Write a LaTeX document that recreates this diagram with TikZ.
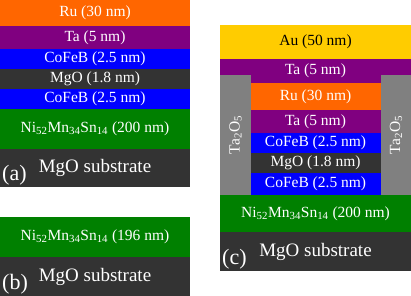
\documentclass[tikz,border=0pt]{standalone}
\usepackage{fontspec}
\setmainfont{Liberation Serif}
\usetikzlibrary{positioning}
\definecolor{ru}{HTML}{FF6600}
\definecolor{ta}{HTML}{800080}
\definecolor{cofeb}{HTML}{0000FF}
\definecolor{mgo}{HTML}{333333}
\definecolor{nms}{HTML}{008000}
\definecolor{au}{HTML}{FFCC00}
\definecolor{taox}{HTML}{808080}
\begin{document}
\begin{tikzpicture}[x=1pt,y=-1pt,node distance=0pt,
layer/.style={inner sep=0pt,outer sep=0pt,text=white,font=\fontsize{15.5}{18}\selectfont},
sub/.style={layer,fill=mgo,font=\fontsize{19}{22}\selectfont},
tag/.style={inner sep=2pt,anchor=south west,text=white,font=\fontsize{22}{26}\selectfont}]
\useasboundingbox (0,0) rectangle (411,296);
% (a)
\node[layer,fill=ru,minimum width=190pt,minimum height=26pt,anchor=north west](aru) at (0,0){Ru (30 nm)};
\node[layer,fill=ta,minimum width=190pt,minimum height=23pt,below=of aru](ata){Ta (5 nm)};
\node[layer,fill=cofeb,minimum width=190pt,minimum height=20pt,below=of ata](afree){CoFeB (2.5 nm)};
\node[layer,fill=mgo,minimum width=190pt,minimum height=20pt,below=of afree](amgo){MgO (1.8 nm)};
\node[layer,fill=cofeb,minimum width=190pt,minimum height=20pt,below=of amgo](aref){CoFeB (2.5 nm)};
\node[layer,fill=nms,minimum width=190pt,minimum height=40pt,below=of aref](anms){Ni\textsubscript{52}Mn\textsubscript{34}Sn\textsubscript{14} (200 nm)};
\node[sub,minimum width=190pt,minimum height=38pt,below=of anms](asub){MgO substrate};
\node[tag](tagA) at (asub.south west){(a)};
% (b)
\node[layer,fill=nms,minimum width=190pt,minimum height=40pt,anchor=north west](bnms) at (0,217){Ni\textsubscript{52}Mn\textsubscript{34}Sn\textsubscript{14} (196 nm)};
\node[sub,minimum width=190pt,minimum height=39pt,below=of bnms](bsub){MgO substrate};
\node[tag](tagB) at (bsub.south west){(b)};
% (c)
\node[layer,fill=au,text=black,minimum width=191pt,minimum height=34pt,anchor=north west](cau) at (220,25){Au (50 nm)};
\node[layer,fill=ta,minimum width=191pt,minimum height=24pt,below=of cau](ccap){Ta (5 nm)};
\node[layer,fill=ru,minimum width=130pt,minimum height=27pt,below=of ccap](cru){Ru (30 nm)};
\node[layer,fill=ta,minimum width=130pt,minimum height=23pt,below=of cru](cta){Ta (5 nm)};
\node[layer,fill=cofeb,minimum width=130pt,minimum height=20pt,below=of cta](cfree){CoFeB (2.5 nm)};
\node[layer,fill=mgo,minimum width=130pt,minimum height=20pt,below=of cfree](cmgo){MgO (1.8 nm)};
\node[layer,fill=cofeb,minimum width=130pt,minimum height=22pt,below=of cmgo](cref){CoFeB (2.5 nm)};
\node[layer,fill=nms,minimum width=191pt,minimum height=37pt,below=of cref](cnms){Ni\textsubscript{52}Mn\textsubscript{34}Sn\textsubscript{14} (200 nm)};
\node[sub,minimum width=191pt,minimum height=39pt,below=of cnms](csub){MgO substrate};
\node[tag](tagC) at (csub.south west){(c)};
\node[layer,fill=taox,minimum width=31pt,minimum height=120pt,anchor=north west](oxl) at ([yshift=8pt]ccap.south west){};
\node[layer,fill=taox,minimum width=30pt,minimum height=120pt,anchor=north east](oxr) at ([yshift=8pt]ccap.south east){};
\node[layer,rotate=90](oxltext) at (oxl){Ta\textsubscript{2}O\textsubscript{5}};
\node[layer,rotate=90](oxrtext) at (oxr){Ta\textsubscript{2}O\textsubscript{5}};
\end{tikzpicture}
\end{document}
